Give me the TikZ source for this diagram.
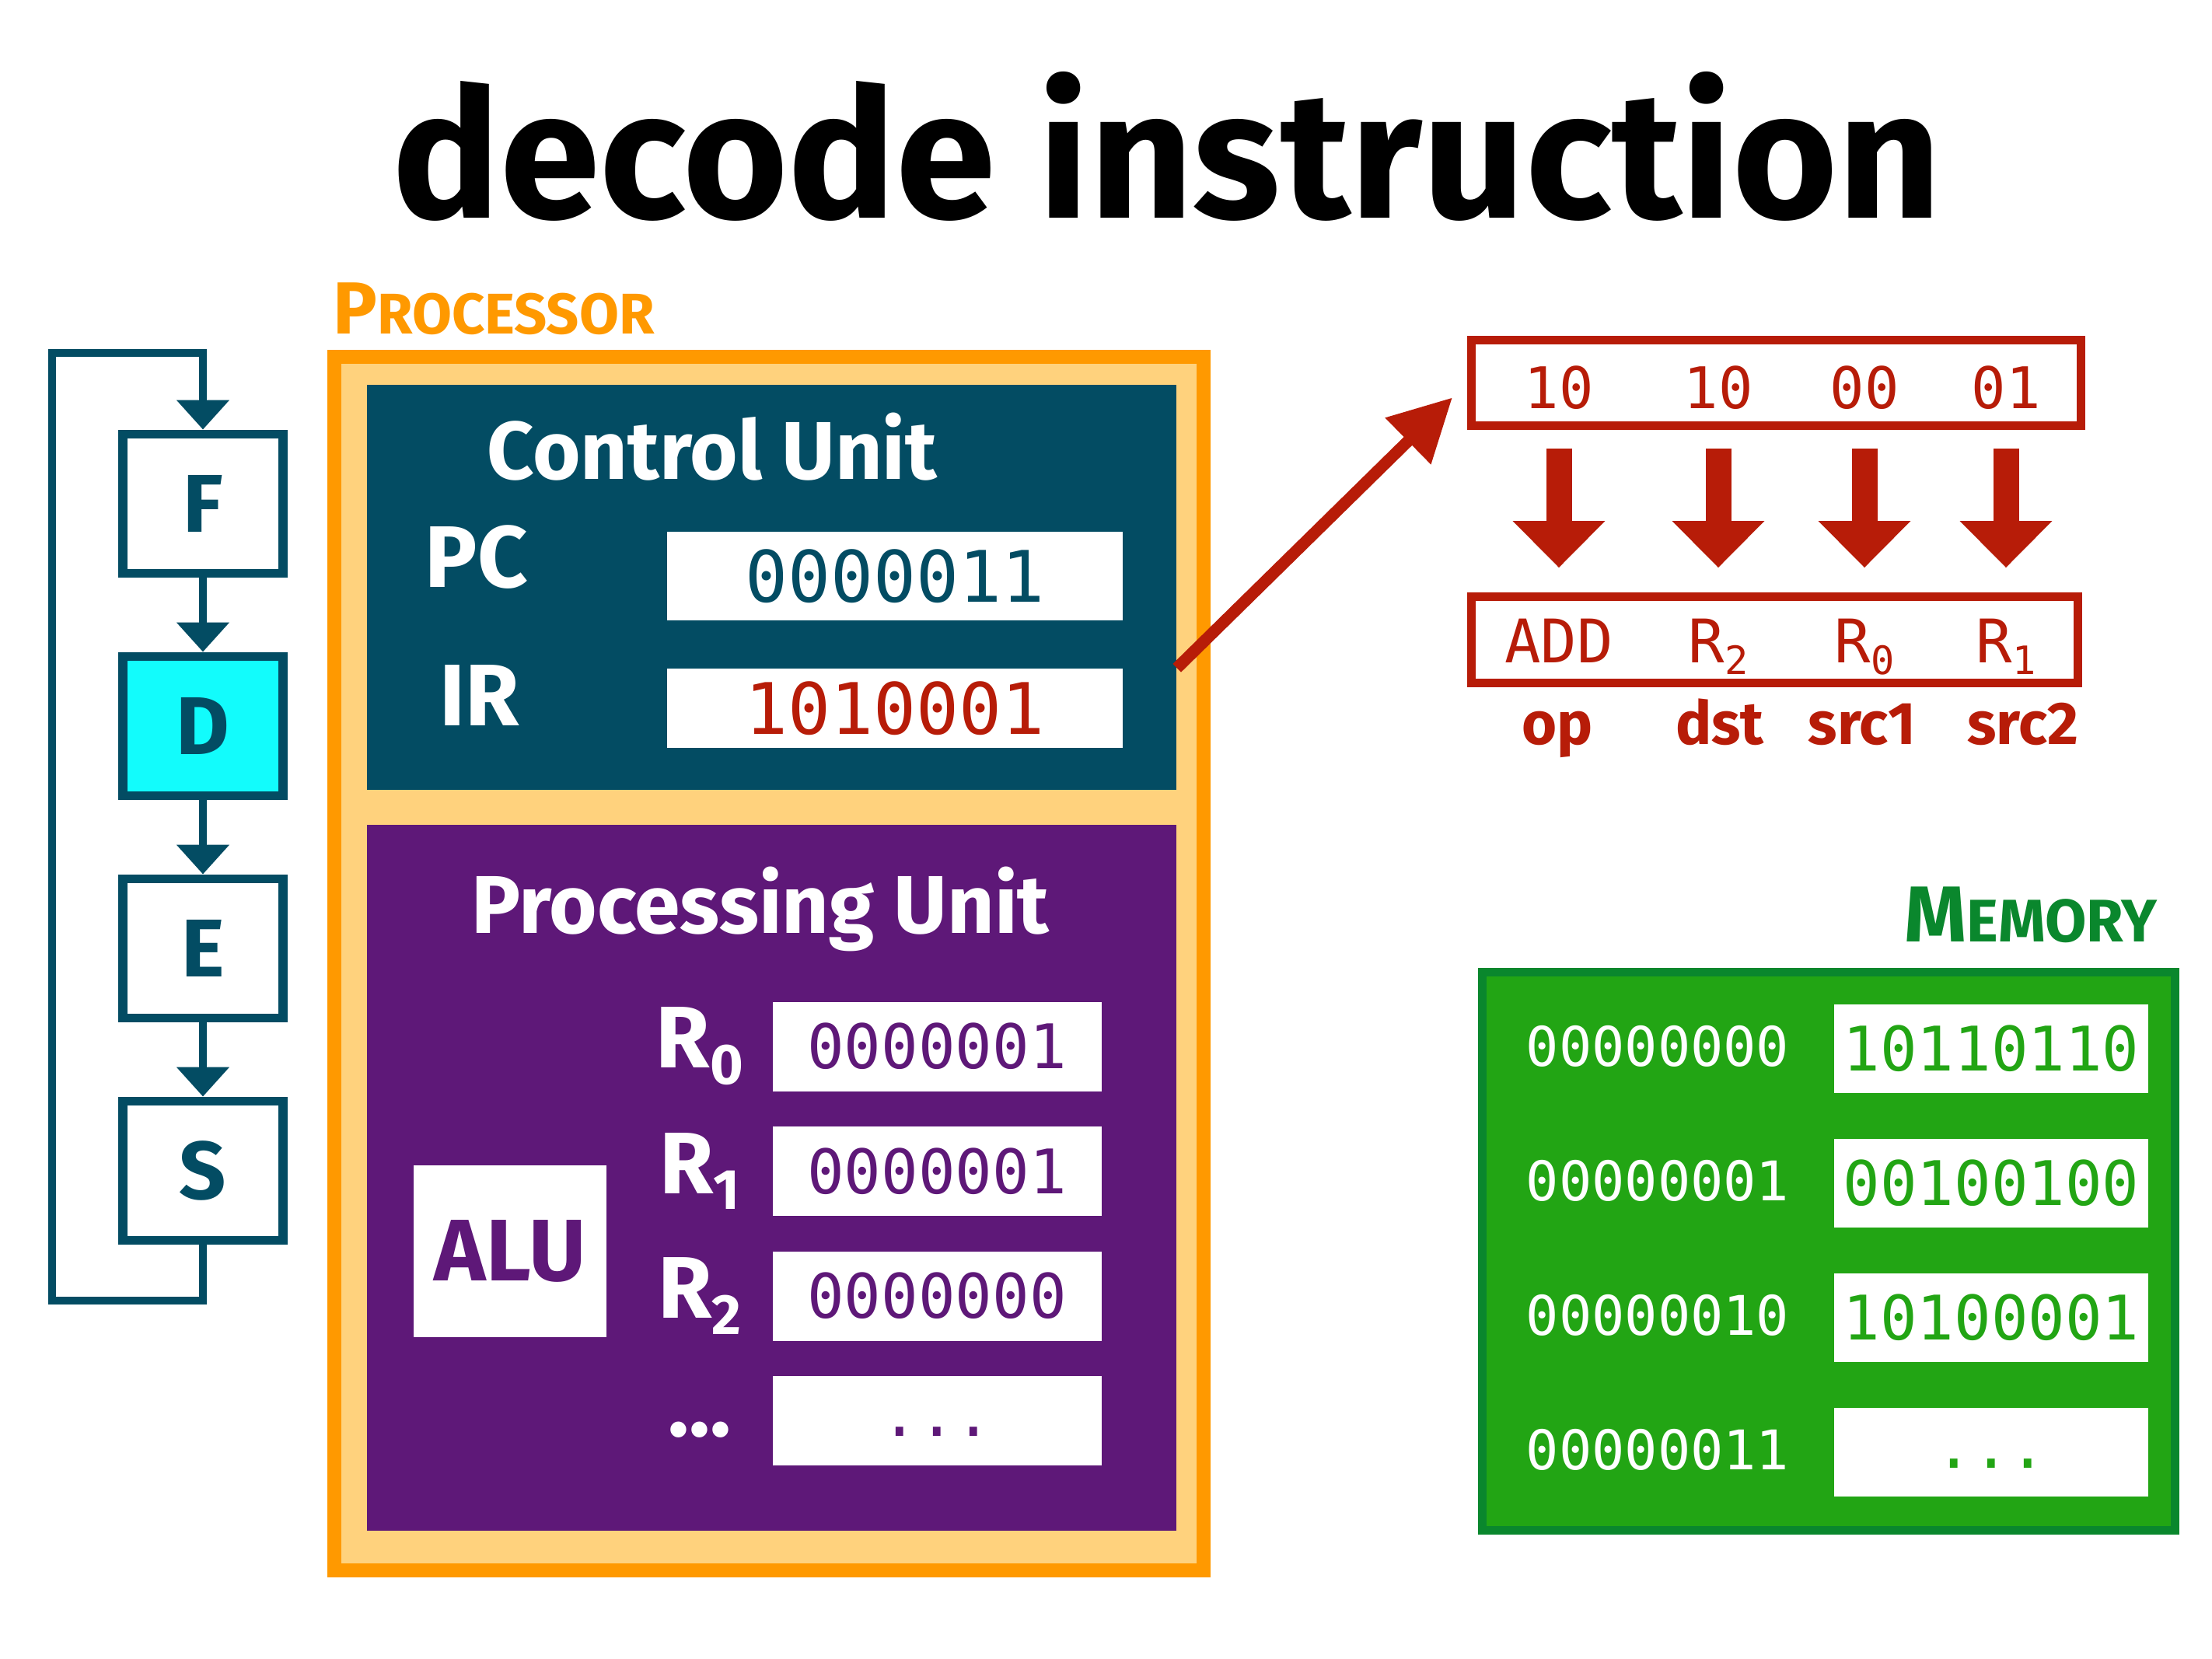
\documentclass[tikz,border=0pt]{standalone}
\usepackage{fontspec}
\setmainfont{Fira Sans}
\newfontfamily\handfont{Fira Sans}
\newfontfamily\bitfont{DejaVu Sans Mono}
\usetikzlibrary{arrows.meta,positioning}

\definecolor{cuteal}{RGB}{3,76,99}
\definecolor{stagecyan}{RGB}{18,252,252}
\definecolor{procorange}{RGB}{255,153,0}
\definecolor{procfill}{RGB}{255,210,125}
\definecolor{pupurple}{RGB}{94,24,120}
\definecolor{instrred}{RGB}{183,28,8}
\definecolor{memgreen}{RGB}{34,165,20}
\definecolor{memdark}{RGB}{10,135,45}

\newcommand{\lowsub}[1]{\raisebox{-0.35ex}{\scalebox{0.65}{#1}}}
\newcommand{\regdots}{\raisebox{-0.2cm}[0pt][0pt]{...}}
\newcommand{\handsize}[1]{\handfont\bfseries\fontsize{#1}{#1}\selectfont}
\newcommand{\bitsize}[1]{\bitfont\fontsize{#1}{#1}\selectfont}

\tikzset{
    stage box/.style={
        draw=cuteal,line width=3.4pt,
        minimum width=2.06cm,minimum height=1.79cm,
        text=cuteal,font=\handsize{30}
    },
    stage line/.style={draw=cuteal,line width=2.6pt},
    unit title/.style={anchor=base,text=white,font=\handsize{30}},
    reg label/.style={text=white,font=\handsize{32}},
    value box/.style={
        fill=white,inner sep=0pt,
        minimum width=4.23cm,minimum height=1.15cm
    },
    field box/.style={
        draw=instrred,line width=3pt,inner sep=0pt,
        minimum width=7.84cm,minimum height=1.10cm
    },
    decode arrow/.style={
        draw=instrred,line width=0.33cm,
        -{Triangle[length=0.6cm,width=1.15cm]},
        shorten <=0.24cm,shorten >=0.32cm
    },
    >={Triangle[length=0.38cm,width=0.66cm]}
}

\begin{document}
\begin{tikzpicture}
\useasboundingbox (0,0) rectangle (28.45,-21.34);
\node[anchor=base,font=\handsize{66}] (title) at (15.01,-2.81) {decode instruction};

% cycle
\foreach \i/\name/\col in {0/F/white,1/D/stagecyan,2/E/white,3/S/white}
    \node[stage box,fill=\col] (stage_\name) at (2.61,-6.48-2.86*\i) {\name};
\foreach \a/\b in {F/D,D/E,E/S}
    \draw[stage line,->] (stage_\a) -- (stage_\b);
\coordinate (loop_bottom) at (0.67,-16.73);
\coordinate (loop_top) at (0.67,-4.54);
\draw[stage line,->] (stage_S) |- (loop_bottom) -- (loop_top) -| (stage_F);

% processor
\node[anchor=base west,text=procorange,font=\handfont\bfseries] (processor_label) at (4.16,-4.30)
    {\fontsize{27}{27}\selectfont P\fontsize{21}{21}\selectfont ROCESSOR};
\node[draw=procorange,line width=5pt,fill=procfill,minimum width=11.18cm,minimum height=15.61cm] (processor) at (9.89,-12.395) {};

\node[fill=cuteal,minimum width=10.41cm,minimum height=5.21cm] (control) at (9.925,-7.555) {};
\node[unit title] (control_title) at (9.16,-6.17) {Control Unit};
\node[reg label] (pc_label) at (6.13,-7.17) {PC};
\node[reg label] (ir_label) at (6.17,-8.95) {IR};
\node[value box,minimum width=5.86cm,minimum height=1.14cm,text=cuteal,font=\bitsize{26}] (pc_val) at (11.51,-7.41) {0000011};
\node[value box,minimum width=5.86cm,minimum height=1.02cm,text=instrred,font=\bitsize{26}] (ir_val) at (11.51,-9.11) {1010001};

\node[fill=pupurple,minimum width=10.41cm,minimum height=9.08cm] (processing) at (9.925,-15.15) {};
\node[unit title] (processing_title) at (9.78,-12.01) {Processing Unit};
\node[fill=white,minimum width=2.48cm,minimum height=2.21cm,text=pupurple,font=\handsize{32}] (alu) at (6.56,-16.095) {ALU};
\foreach \i/\reg/\val in {0/R\lowsub{0}/0000001,1/R\lowsub{1}/0000001,2/R\lowsub{2}/0000000,3/\regdots/\regdots}{
    \node[value box,text=pupurple,font=\bitsize{22.5}] (reg_val_\i) at (12.05,-13.46-1.605*\i) {\val};
    \node[reg label] (reg_label_\i) at (9.00,-13.46-1.605*\i) {\reg};
}

% instruction
\node[field box] (instr) at (22.845,-4.925) {};
\node[field box,minimum width=7.80cm,minimum height=1.11cm] (decoded) at (22.825,-8.23) {};
\foreach \i/\x/\bits/\field/\role/\rx in {0/20.05/10/ADD/op/20.03,1/22.10/10/R\lowsub{2}/dst/22.12,2/23.98/00/R\lowsub{0}/src1/23.95,3/25.80/01/R\lowsub{1}/src2/26.02}{
    \node[anchor=base,text=instrred,font=\bitsize{21}] (bits_\i) at (\x,-5.26) {\bits};
    \node[anchor=base,text=instrred,font=\bitsize{22}] (field_\i) at (\x,-8.53) {\field};
    \node[anchor=base,text=instrred,font=\handsize{22}] (role_\i) at (\rx,-9.58) {\role};
    \draw[decode arrow] (bits_\i |- instr.south) -- (bits_\i |- decoded.north);
}
\draw[draw=instrred,line width=4.3pt,-{Triangle[length=0.8cm,width=0.8cm]},shorten >=0.27cm]
    (ir_val.north -| control.east) -- (instr.west);

% memory
\node[anchor=base,text=memdark,font=\handfont\bfseries] (memory_label) at (26.12,-12.12)
    {\fontsize{29}{29}\selectfont M\fontsize{22}{22}\selectfont EMORY};
\node[draw=memdark,line width=3pt,fill=memgreen,minimum width=8.91cm,minimum height=7.18cm] (memory) at (23.52,-16.095) {};
\foreach \i/\addr/\val in {0/00000000/10110110,1/00000001/00100100,2/00000010/10100001,3/00000011/\regdots}{
    \node[text=white,font=\bitsize{20}] (addr_\i) at (21.32,-13.46-1.73*\i) {\addr};
    \node[value box,minimum width=4.04cm,minimum height=1.14cm,text=memgreen,font=\bitsize{22.5}] (mem_val_\i) at (25.61,-13.49-1.73*\i) {\val};
}
\end{tikzpicture}
\end{document}
